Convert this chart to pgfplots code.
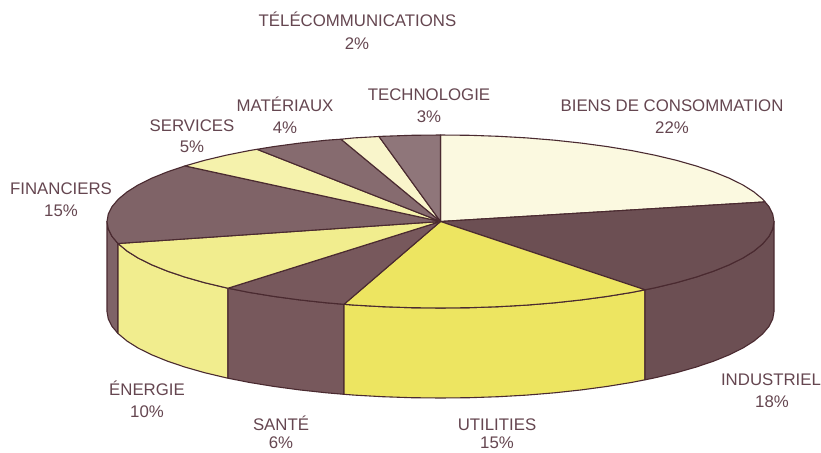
\documentclass[border=0pt]{standalone}
\usepackage{fontspec}
\setmainfont{Liberation Sans}
\usepackage{pgfplots}
\pgfplotsset{compat=1.18}
\definecolor{edge}{HTML}{4A2A30}
\definecolor{txt}{HTML}{654650}
\definecolor{cBiens}{HTML}{FBF9E0}
\definecolor{cInd}{HTML}{6C4F53}
\definecolor{cUtil}{HTML}{EDE561}
\definecolor{cSante}{HTML}{77585C}
\definecolor{cEn}{HTML}{F1ED8E}
\definecolor{cFin}{HTML}{7F6367}
\definecolor{cServ}{HTML}{F5F2AC}
\definecolor{cMat}{HTML}{866B6F}
\definecolor{cTel}{HTML}{F9F5CB}
\definecolor{cTech}{HTML}{8F767A}
\tikzset{lab/.style={anchor=base,text=txt,inner sep=0pt,font=\fontsize{16.8}{20}\selectfont}}
\begin{document}
\begin{tikzpicture}
\path[use as bounding box,clip] (0,0) rectangle (821pt,452pt);
\begin{axis}[
  at={(0,0)},anchor=south west,
  scale only axis,width=821pt,height=452pt,
  xmin=0,xmax=821,ymin=0,ymax=452,y dir=reverse,
  hide axis,clip=false,no markers,
  every axis plot/.append style={draw=edge,line width=1.1pt,line join=round,forget plot},
]
% sides
\addplot[fill=cFin] coordinates {(118,243.5)(112.1,236.5)(108.3,229)(107,221.5)(107,311.5)(108.3,319)(112.1,326.5)(118,333.5)} --cycle;
\addplot[fill=cEn] coordinates {(228,288.2)(226.1,287.8)(204.7,282.7)(185,277.1)(167.3,271.1)(151.7,264.8)(138.2,258.1)(127.1,251.1)(118,243.5)(118,333.5)(127.1,341.1)(138.2,348.1)(151.7,354.8)(167.3,361.1)(185,367.1)(204.7,372.7)(226.1,377.8)(228,378.2)} --cycle;
\addplot[fill=cSante] coordinates {(344,304.3)(326.4,302.8)(299.6,299.9)(273.7,296.4)(249.2,292.4)(228,288.2)(228,378.2)(249.2,382.4)(273.7,386.4)(299.6,389.9)(326.4,392.8)(344,394.3)} --cycle;
\addplot[fill=cUtil] coordinates {(645,289.8)(631.8,292.4)(607.3,296.4)(581.4,299.9)(554.6,302.8)(526.8,305.1)(498.4,306.7)(469.6,307.7)(440.5,308)(411.4,307.7)(382.6,306.7)(354.2,305.1)(344,304.3)(344,394.3)(354.2,395.1)(382.6,396.7)(411.4,397.7)(440.5,398)(469.6,397.7)(498.4,396.7)(526.8,395.1)(554.6,392.8)(581.4,389.9)(607.3,386.4)(631.8,382.4)(645,379.8)} --cycle;
\addplot[fill=cInd] coordinates {(774,221.5)(772.7,229)(768.9,236.5)(762.6,243.9)(753.9,251.1)(742.8,258.1)(729.3,264.8)(713.7,271.1)(696,277.1)(676.3,282.7)(654.9,287.8)(645,289.8)(645,379.8)(654.9,377.8)(676.3,372.7)(696,367.1)(713.7,361.1)(729.3,354.8)(742.8,348.1)(753.9,341.1)(762.6,333.9)(768.9,326.5)(772.7,319)(774,311.5)} --cycle;
% tops
\addplot[fill=cBiens] coordinates {(440.5,221.5)(440.5,135)(469.6,135.3)(498.4,136.3)(526.8,137.9)(554.6,140.2)(581.4,143.1)(607.3,146.6)(631.8,150.6)(654.9,155.2)(676.3,160.3)(696,165.9)(713.7,171.9)(729.3,178.2)(742.8,184.9)(753.9,191.9)(762.6,199.1)(765,201.9)} --cycle;
\addplot[fill=cInd] coordinates {(440.5,221.5)(765,201.9)(768.9,206.5)(772.7,214)(774,221.5)(772.7,229)(768.9,236.5)(762.6,243.9)(753.9,251.1)(742.8,258.1)(729.3,264.8)(713.7,271.1)(696,277.1)(676.3,282.7)(654.9,287.8)(645,289.8)} --cycle;
\addplot[fill=cUtil] coordinates {(440.5,221.5)(645,289.8)(631.8,292.4)(607.3,296.4)(581.4,299.9)(554.6,302.8)(526.8,305.1)(498.4,306.7)(469.6,307.7)(440.5,308)(411.4,307.7)(382.6,306.7)(354.2,305.1)(344,304.3)} --cycle;
\addplot[fill=cSante] coordinates {(440.5,221.5)(344,304.3)(326.4,302.8)(299.6,299.9)(273.7,296.4)(249.2,292.4)(228,288.2)} --cycle;
\addplot[fill=cEn] coordinates {(440.5,221.5)(228,288.2)(226.1,287.8)(204.7,282.7)(185,277.1)(167.3,271.1)(151.7,264.8)(138.2,258.1)(127.1,251.1)(118,243.5)} --cycle;
\addplot[fill=cFin] coordinates {(440.5,221.5)(118,243.5)(112.1,236.5)(108.3,229)(107,221.5)(108.3,214)(112.1,206.5)(118.4,199.1)(127.1,191.9)(138.2,184.9)(151.7,178.2)(167.3,171.9)(185,165.9)} --cycle;
\addplot[fill=cServ] coordinates {(440.5,221.5)(185,165.9)(204.7,160.3)(226.1,155.2)(249.2,150.6)(257,149.3)} --cycle;
\addplot[fill=cMat] coordinates {(440.5,221.5)(257,149.3)(273.7,146.6)(299.6,143.1)(326.4,140.2)(341,139.2)} --cycle;
\addplot[fill=cTel] coordinates {(440.5,221.5)(341,139.2)(354.2,137.9)(379,136.5)} --cycle;
\addplot[fill=cTech] coordinates {(440.5,221.5)(379,136.5)(382.6,136.3)(411.4,135.3)(440.5,135)} --cycle;
% labels
\node[lab] at (axis cs:357.5,27) {TÉLÉCOMMUNICATIONS};
\node[lab] at (axis cs:357,50) {2\%};
\node[lab] at (axis cs:429,100) {TECHNOLOGIE};
\node[lab] at (axis cs:429,122) {3\%};
\node[lab] at (axis cs:285,111) {MATÉRIAUX};
\node[lab] at (axis cs:285,133) {4\%};
\node[lab] at (axis cs:672,111) {BIENS DE CONSOMMATION};
\node[lab] at (axis cs:672,133) {22\%};
\node[lab] at (axis cs:192,131) {SERVICES};
\node[lab] at (axis cs:192,152) {5\%};
\node[lab] at (axis cs:61,194) {FINANCIERS};
\node[lab] at (axis cs:61,216) {15\%};
\node[lab] at (axis cs:147,395) {ÉNERGIE};
\node[lab] at (axis cs:147,417) {10\%};
\node[lab] at (axis cs:281,430) {SANTÉ};
\node[lab] at (axis cs:281,448) {6\%};
\node[lab] at (axis cs:497,430) {UTILITIES};
\node[lab] at (axis cs:497,448) {15\%};
\node[lab] at (axis cs:771,385) {INDUSTRIEL};
\node[lab] at (axis cs:772,407) {18\%};
\end{axis}
\end{tikzpicture}
\end{document}
